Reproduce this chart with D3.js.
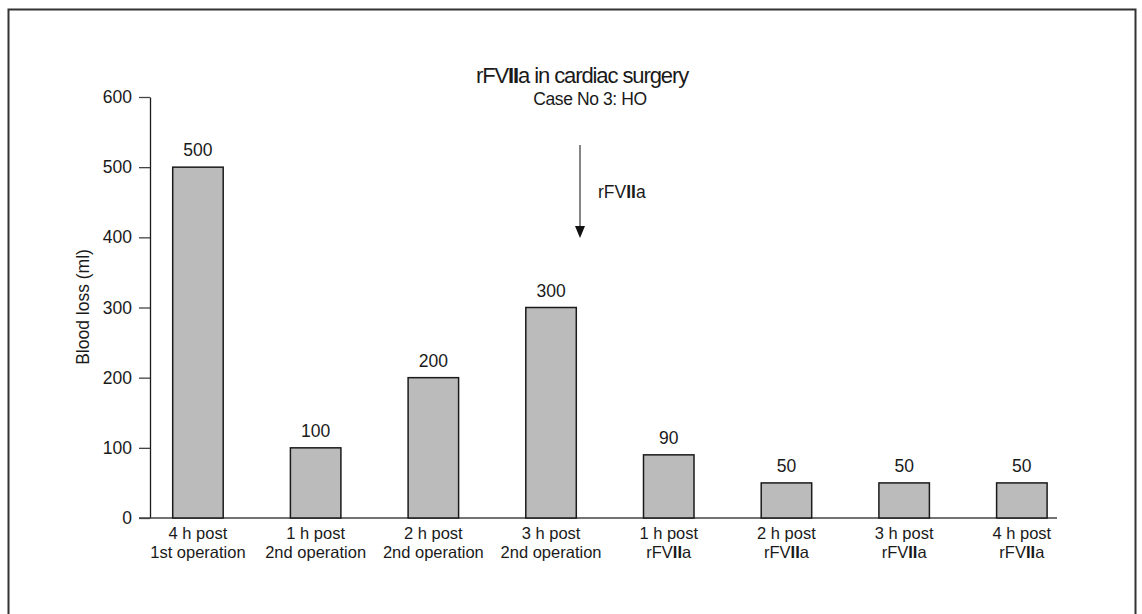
<!DOCTYPE html>
<html><head><meta charset="utf-8">
<script src="https://cdn.jsdelivr.net/npm/d3@7"></script>
<style>
html,body{margin:0;padding:0;background:#fff;}
svg{display:block;font-family:"Liberation Sans",Arial,sans-serif;}
</style></head>
<body>
<svg id="chart" width="1142" height="614"></svg>
<script>
const categoryLine1 = ["4 h post","1 h post","2 h post","3 h post","1 h post","2 h post","3 h post","4 h post"];
const categoryLine2 = ["1st operation","2nd operation","2nd operation","2nd operation","rFVIIa","rFVIIa","rFVIIa","rFVIIa"];
const bloodLoss = [500,100,200,300,90,50,50,50];
const yTicks = [0,100,200,300,400,500,600];

const svg = d3.select("#chart");
const ink = "#1a1a1a";

// frame
svg.append("path").attr("d","M8.5,620 L8.5,9.5 L1135.5,9.5 L1135.5,620")
  .attr("fill","none").attr("stroke","#333").attr("stroke-width",2);

const idx = bloodLoss.map((d,i)=>i);
const x = d3.scaleBand().domain(idx).range([139.1,1080.7]).paddingInner(0.571).paddingOuter(0.2855);
const y = d3.scaleLinear().domain([0,600]).range([518,97]);

// y axis
const yAxis = d3.axisLeft(y).tickValues(yTicks).tickSize(11).tickSizeOuter(0).tickPadding(7);
const gy = svg.append("g").attr("transform","translate(150,0)").call(yAxis);
gy.select(".domain").attr("stroke",ink).attr("stroke-width",1.3);
gy.selectAll(".tick line").attr("stroke","#444").attr("stroke-width",1.3);
gy.selectAll(".tick text").attr("font-size",17.5).attr("fill",ink).attr("font-family","Liberation Sans, Arial, sans-serif");

// baseline
svg.append("line").attr("x1",139).attr("x2",1057).attr("y1",y(0)).attr("y2",y(0))
  .attr("stroke","#444").attr("stroke-width",1.3);

// bars
svg.append("g").selectAll("rect").data(bloodLoss).join("rect")
  .attr("x",(d,i)=>x(i)).attr("width",x.bandwidth())
  .attr("y",d=>y(d)).attr("height",d=>y(0)-y(d))
  .attr("fill","#bbbbbb").attr("stroke",ink).attr("stroke-width",1.5);

// value labels
svg.append("g").selectAll("text").data(bloodLoss).join("text")
  .attr("x",(d,i)=>x(i)+x.bandwidth()/2).attr("y",d=>y(d)-11)
  .attr("text-anchor","middle").attr("font-size",17.5).attr("fill",ink)
  .text(d=>d);

// x labels
const xl = svg.append("g").selectAll("text").data(idx).join("text")
  .attr("text-anchor","middle").attr("font-size",16.5).attr("fill",ink)
  .attr("x",i=>x(i)+x.bandwidth()/2);
function addRich(sel, str){
  const parts = str.split(/(II)/);
  parts.forEach(p=>{ if(!p) return; const t = sel.append("tspan").text(p); if(p==="II") t.attr("font-weight","bold"); });
}
xl.each(function(i){
  const t = d3.select(this);
  const a = t.append("tspan").attr("x",x(i)+x.bandwidth()/2).attr("y",539);
  addRich(a, categoryLine1[i]);
  const b = t.append("tspan").attr("x",x(i)+x.bandwidth()/2).attr("y",558);
  addRich(b, categoryLine2[i]);
});

// y label
svg.append("text").attr("transform","translate(89,307) rotate(-90)")
  .attr("text-anchor","middle").attr("font-size",17.5).attr("fill",ink).text("Blood loss (ml)");

// title
const title = svg.append("text").attr("x",582).attr("y",83).attr("text-anchor","middle")
  .attr("font-size",22).attr("letter-spacing",-1.1).attr("fill",ink);
addRich(title,"rFVIIa in cardiac surgery");
svg.append("text").attr("x",590).attr("y",105).attr("text-anchor","middle")
  .attr("font-size",17.5).attr("letter-spacing",-0.4).attr("fill",ink).text("Case No 3: HO");

// arrow
svg.append("line").attr("x1",580).attr("x2",580).attr("y1",145).attr("y2",228)
  .attr("stroke","#444").attr("stroke-width",1.3);
svg.append("path").attr("d","M575,226 L585,226 L580,238 Z").attr("fill","#111");
const al = svg.append("text").attr("x",598).attr("y",198).attr("font-size",17.5).attr("fill",ink);
addRich(al,"rFVIIa");
</script>
</body></html>
